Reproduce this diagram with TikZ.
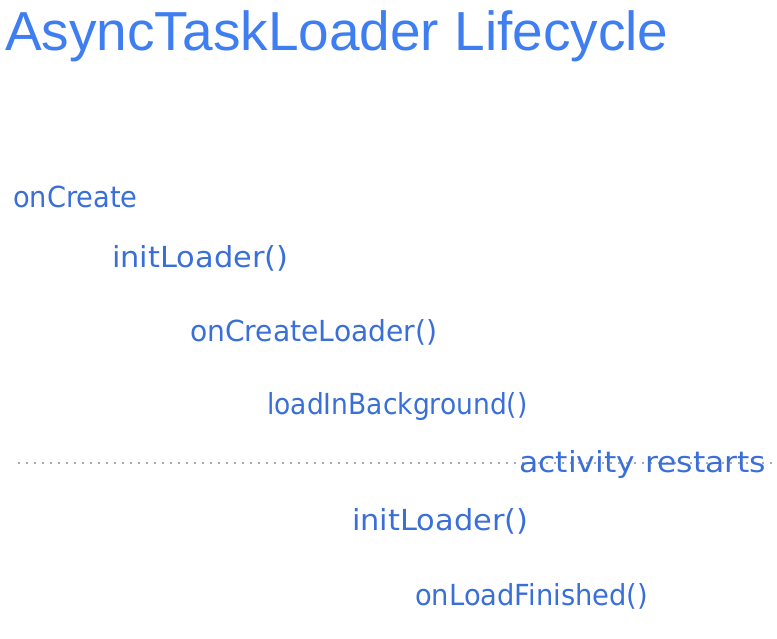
\documentclass[tikz,border=0pt]{standalone}
\usepackage{fontspec}
\setmainfont{DejaVu Sans}
\newfontfamily\titlefont{Liberation Sans}
\definecolor{titleblue}{HTML}{3F7EF0}
\definecolor{textblue}{HTML}{3B6FD8}
\definecolor{dotgray}{HTML}{4A5068}
\newcommand{\hsq}[2]{\scalebox{#1}[1]{#2}}
\begin{document}
\begin{tikzpicture}[x=1pt,y=-1pt,
  step label/.style={anchor=base west, inner sep=0pt, text=textblue, font=\fontsize{29}{34}\selectfont},
  title label/.style={anchor=base west, inner sep=0pt, text=titleblue, font=\titlefont\fontsize{55}{62}\selectfont},
  divider/.style={draw=dotgray, line width=1.6pt, line cap=round, dash pattern=on 0pt off 8pt}]
\useasboundingbox (0,0) rectangle (777,638);
\node[title label] (title) at (5,50) {AsyncTaskLoader Lifecycle};
\coordinate (dl) at (19,463);
\coordinate (dr) at (775,463);
\draw[divider] (dl) -- (dr);
\node[step label] (oncreate) at (13,207) {\hsq{0.94}{onCreate}};
\node[step label] (init1) at (112,267) {\hsq{1.05}{initLoader()}};
\node[step label] (ocl) at (190,341) {\hsq{0.972}{onCreateLoader()}};
\node[step label] (lib) at (267,414) {\hsq{0.915}{loadInBackground()}};
\node[step label] (restart) at (519,472) {\hsq{1.084}{activity restarts}};
\node[step label] (init2) at (352,530) {\hsq{1.05}{initLoader()}};
\node[step label] (olf) at (415,605) {\hsq{0.943}{onLoadFinished()}};
\end{tikzpicture}
\end{document}
